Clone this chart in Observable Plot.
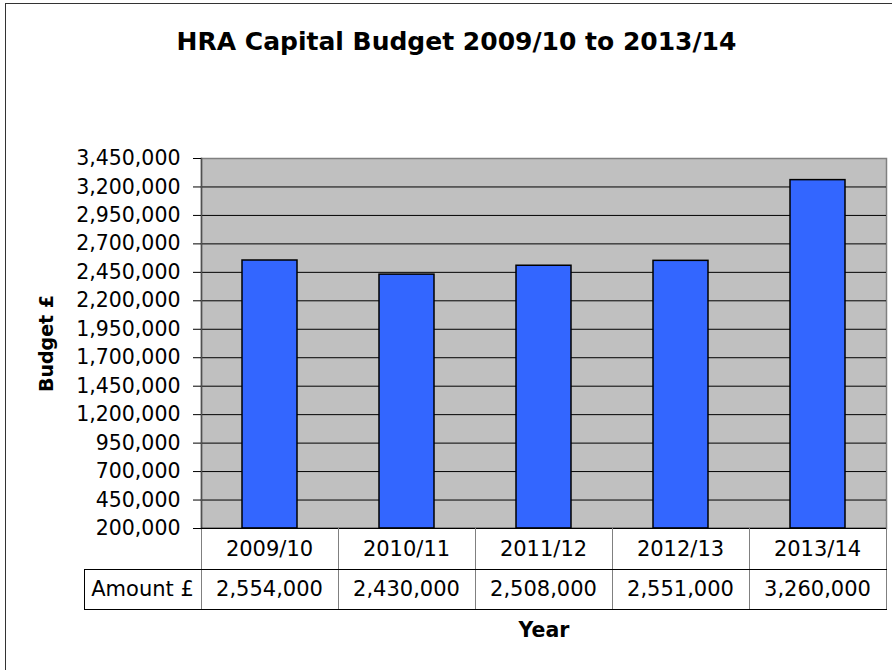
<!DOCTYPE html>
<html>
<head>
<meta charset="utf-8">
<script src="https://cdn.jsdelivr.net/npm/d3@7"></script>
<script src="https://cdn.jsdelivr.net/npm/@observablehq/plot@0.6"></script>
<style>
html, body { margin: 0; padding: 0; background: #fff; overflow: hidden; }
#wrap { position: relative; width: 892px; height: 670px; overflow: hidden; background: #fff; }
#wrap svg { position: absolute; left: 0; top: 0; }
#border { position: absolute; left: 5px; top: 3px; width: 1200px; height: 1200px; border: 1.5px solid #333; box-sizing: border-box; pointer-events: none; }
#tbl { position: absolute; border-collapse: collapse; table-layout: fixed; font-family: "DejaVu Sans"; font-size: 21px; color: #000; }
#tbl td { padding: 0; text-align: center; vertical-align: middle; white-space: nowrap;
  border-left: 1px solid #808080; border-right: 1px solid #808080;
  border-top: 1px solid #000; border-bottom: 1px solid #000; background: #fff; }
#tbl td.blank { border: none; background: transparent; }
#tbl td.lab { border-left: 1px solid #000; }
</style>
</head>
<body>
<div id="wrap"><div id="border"></div></div>
<script>
// ---- data ----
const years = ["2009/10", "2010/11", "2011/12", "2012/13", "2013/14"];
const amounts = [2554000, 2430000, 2508000, 2551000, 3260000];
const yTicks = [200000, 450000, 700000, 950000, 1200000, 1450000, 1700000,
                1950000, 2200000, 2450000, 2700000, 2950000, 3200000, 3450000];
const title = "HRA Capital Budget 2009/10 to 2013/14";
const yLabel = "Budget £";
const xLabel = "Year";
const rowLabel = "Amount £";

const data = years.map((year, i) => ({year, amount: amounts[i]}));
const fmt = d3.format(",");

const chart = Plot.plot({
  width: 892,
  height: 670,
  marginTop: 158,
  marginRight: 6,
  marginBottom: 142,
  marginLeft: 201,
  style: {fontFamily: "DejaVu Sans", fontSize: "20.5px", color: "#000", background: "transparent", overflow: "visible"},
  x: {type: "band", domain: years, padding: 0, axis: null},
  y: {domain: [yTicks[0], yTicks[yTicks.length - 1]], axis: null},
  marks: [
    Plot.frame({fill: "#C0C0C0", stroke: "#808080", strokeWidth: 1.5}),
    Plot.gridY(yTicks.slice(1, -1), {stroke: "#000", strokeOpacity: 1, strokeWidth: 1}),
    Plot.barY(data, {x: "year", y1: yTicks[0], y2: "amount", fill: "#3366FF", stroke: "#000", strokeWidth: 1.5, insetLeft: 41, insetRight: 41}),
    Plot.frame({anchor: "left", stroke: "#505050", strokeWidth: 1.5}),
    Plot.ruleY([yTicks[0]], {stroke: "#000", strokeWidth: 1.5}),
    Plot.axisY(yTicks, {tickSize: 8, tickPadding: 13, tickFormat: fmt, label: null}),
    Plot.text([yLabel], {frameAnchor: "left", dx: -155, rotate: -90, textAnchor: "middle", lineAnchor: "middle", fontWeight: "bold", fontSize: 19}),
    Plot.text([title], {frameAnchor: "top", dx: -87.5, dy: -108.7, textAnchor: "middle", lineAnchor: "bottom", fontWeight: "bold", fontSize: 25}),
    Plot.text([xLabel], {frameAnchor: "bottom", dy: 102, textAnchor: "middle", lineAnchor: "middle", fontWeight: "bold", fontSize: 20.5})
  ]
});

const wrap = document.getElementById("wrap");
wrap.insertBefore(chart, wrap.firstChild);

// ---- data table aligned to the chart's x band scale ----
const xs = chart.scale("x");
const ys = chart.scale("y");
const step = xs.step ?? xs.bandwidth;
const labW = 117;
const x0 = Math.min(...xs.range);
const yBase = ys.apply(yTicks[0]);

const tbl = document.createElement("table");
tbl.id = "tbl";
tbl.style.left = (x0 - labW - 0.5) + "px";
tbl.style.top = (yBase - 0.5) + "px";
tbl.style.width = (labW + step * years.length) + "px";
const cg = document.createElement("colgroup");
[labW, ...years.map(() => step)].forEach(w => {
  const c = document.createElement("col"); c.style.width = w + "px"; cg.appendChild(c);
});
tbl.appendChild(cg);
const r1 = tbl.insertRow(); r1.style.height = "41px";
const b = r1.insertCell(); b.className = "blank";
years.forEach(y => { r1.insertCell().textContent = y; });
const r2 = tbl.insertRow(); r2.style.height = "40px";
const l = r2.insertCell(); l.className = "lab"; l.textContent = rowLabel;
amounts.forEach(a => { r2.insertCell().textContent = fmt(a); });
wrap.appendChild(tbl);
</script>
</body>
</html>
